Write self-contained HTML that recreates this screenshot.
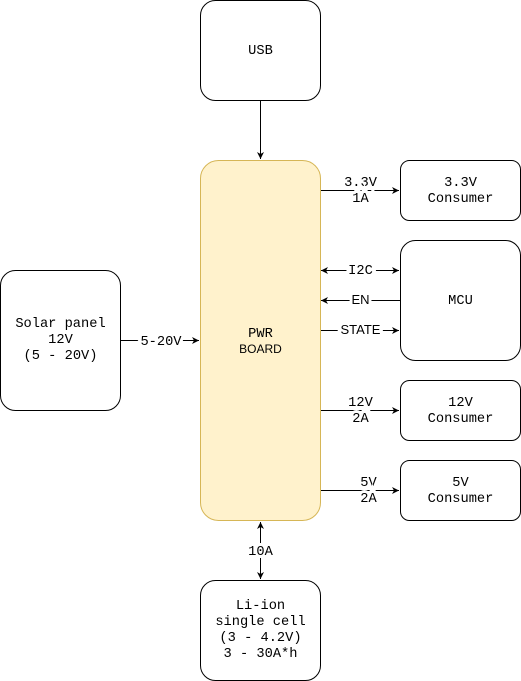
<!DOCTYPE html>
<html><head><meta charset="utf-8"><style>body{margin:0;background:#fff}svg{display:block}</style></head>
<body>
<svg width="521" height="681" xmlns="http://www.w3.org/2000/svg">
<defs>
<marker id="a" markerWidth="8" markerHeight="8" refX="7" refY="4" orient="auto" markerUnits="userSpaceOnUse"><path d="M0,0.5 L7,4 L0,7.5 L2,4 Z" fill="#000"/></marker>
<marker id="s" markerWidth="8" markerHeight="8" refX="1" refY="4" orient="auto" markerUnits="userSpaceOnUse"><path d="M8,0.5 L1,4 L8,7.5 L6,4 Z" fill="#000"/></marker>
</defs>
<g fill="#fff" stroke="#000" stroke-width="1">
<rect x="200.5" y="0.5" width="120" height="100" rx="15"/>
<rect x="0.5" y="270.5" width="120" height="140" rx="15"/>
<rect x="200.5" y="580.5" width="120" height="100" rx="15"/>
<rect x="400.5" y="160.5" width="120" height="60" rx="9"/>
<rect x="400.5" y="240.5" width="120" height="120" rx="15"/>
<rect x="400.5" y="380.5" width="120" height="60" rx="9"/>
<rect x="400.5" y="460.5" width="120" height="60" rx="9"/>
</g>
<rect x="200.5" y="160.5" width="120" height="360" rx="18" fill="#fff2cc" stroke="#d6b656"/>
<g stroke="#000" fill="none">
<line x1="260.5" y1="101" x2="260.5" y2="159" marker-end="url(#a)"/>
<line x1="121" y1="340.5" x2="199" y2="340.5" marker-end="url(#a)"/>
<line x1="260.5" y1="522" x2="260.5" y2="579" marker-end="url(#a)" marker-start="url(#s)"/>
<line x1="321" y1="190.5" x2="399" y2="190.5" marker-end="url(#a)"/>
<line x1="321" y1="270.5" x2="399" y2="270.5" marker-end="url(#a)" marker-start="url(#s)"/>
<line x1="321" y1="300.5" x2="400" y2="300.5" marker-start="url(#s)"/>
<line x1="321" y1="330.5" x2="399" y2="330.5" marker-end="url(#a)"/>
<line x1="321" y1="410.5" x2="399" y2="410.5" marker-end="url(#a)"/>
<line x1="321" y1="490.5" x2="399" y2="490.5" marker-end="url(#a)"/>
</g>
<g font-family="Liberation Mono, monospace" font-size="13.7" text-anchor="middle" fill="#000">
<text x="260.5" y="54">USB</text>
<text x="60.5" y="327">Solar panel</text><text x="60.5" y="343">12V</text><text x="60.5" y="359">(5 - 20V)</text>
<text x="260.5" y="609">Li-ion</text><text x="260.5" y="625">single cell</text><text x="260.5" y="641">(3 - 4.2V)</text><text x="260.5" y="657">3 - 30A*h</text>
<text x="460.5" y="186">3.3V</text><text x="460.5" y="202">Consumer</text>
<text x="460.5" y="304">MCU</text>
<text x="460.5" y="406">12V</text><text x="460.5" y="422">Consumer</text>
<text x="460.5" y="486">5V</text><text x="460.5" y="502">Consumer</text>
<text x="260.5" y="337">PWR</text>
<text x="260.5" y="555" style="paint-order:stroke" stroke="#fff" stroke-width="6">10A</text>
<g style="paint-order:stroke" stroke="#fff" stroke-width="6">
<text x="360.5" y="186">3.3V</text><text x="360.5" y="202">1A</text>
<text x="360.5" y="274">I2C</text>
<text x="360.5" y="304" font-family="Liberation Sans, sans-serif" font-size="13">EN</text>
<text x="360.5" y="334" font-family="Liberation Sans, sans-serif" font-size="13">STATE</text>
<text x="360.5" y="406">12V</text><text x="360.5" y="422">2A</text>
<text x="368.5" y="486">5V</text><text x="368.5" y="502">2A</text>
<text x="161" y="345">5-20V</text>
</g>
<text x="260.5" y="353" font-family="Liberation Sans, sans-serif" font-size="12">BOARD</text>
</g>
</svg>
</body></html>
